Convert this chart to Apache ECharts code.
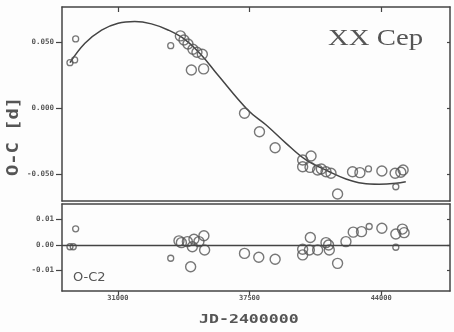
<!DOCTYPE html>
<html>
<head>
<meta charset="utf-8">
<script src="https://cdn.jsdelivr.net/npm/echarts@6/dist/echarts.min.js"></script>
<style>
  html, body { margin: 0; padding: 0; background: #ffffff; }
  #chart { width: 454px; height: 332px; }
</style>
</head>
<body>
<div id="chart"></div>
<script>
// XX Cep: O-C diagram with fitted curve (top) and residuals O-C2 (bottom)

// x tick values (JD-2400000)
const jdTicks = [31000, 37500, 44000];
// O-C tick values [d]
const ocTicks = [-0.05, 0, 0.05];
const resTicks = [-0.01, 0, 0.01];

// O-C observations, large circles: [JD-2400000, O-C]
const ocLarge = [
  [34087, 0.0546], [34265, 0.0515], [34462, 0.0485], [34708, 0.0445],
  [34905, 0.0422], [35171, 0.0407], [34629, 0.0288], [35235, 0.0296],
  [37253, -0.0040], [37992, -0.0180], [38765, -0.0301],
  [40124, -0.0394], [40538, -0.0364], [40124, -0.0445], [40488, -0.0450],
  [40863, -0.0470], [41045, -0.0462], [41276, -0.0483], [41523, -0.0495],
  [41848, -0.0652], [42586, -0.0483], [42951, -0.0490], [44034, -0.0478],
  [44689, -0.0495], [44970, -0.0487], [45083, -0.0470]
];
// O-C observations, small circles
const ocSmall = [
  [28917, 0.0523], [28636, 0.0343], [28868, 0.0364], [33610, 0.0472],
  [43374, -0.0462], [44723, -0.0597]
];
// fitted O-C curve, sampled along its trace
const ocFit = [
  [28636, 0.0343], [29375, 0.0490], [30197, 0.0590], [31015, 0.0642],
  [31837, 0.0655], [32659, 0.0637], [33477, 0.0591], [34299, 0.0520],
  [35121, 0.0402], [35939, 0.0250], [37416, -0.0015], [38322, -0.0129],
  [39307, -0.0268], [40292, -0.0394], [41439, -0.0483], [42261, -0.0538],
  [43079, -0.0571], [43901, -0.0578], [44723, -0.0571], [45215, -0.0559]
];

// residuals O-C2, large circles
const resLarge = [
  [34018, 0.0016], [34137, 0.0009], [34432, 0.0013], [34678, -0.0007],
  [34757, 0.0022], [35003, 0.0013], [35249, 0.0036], [35284, -0.0020],
  [34594, -0.0085], [37253, -0.0033], [37957, -0.0048], [38765, -0.0056],
  [40124, -0.0017], [40124, -0.0039], [40503, 0.0029], [40454, -0.0020],
  [40863, -0.0020], [41276, 0.0009], [41404, 0.0000], [41439, -0.0020],
  [41848, -0.0072], [42261, 0.0013], [42621, 0.0050], [43030, 0.0052],
  [44034, 0.0065], [44723, 0.0043], [45049, 0.0062], [45132, 0.0048]
];
// residuals O-C2, small circles
const resSmall = [
  [28917, 0.0063], [28636, -0.0007], [28798, -0.0007], [33610, -0.0052],
  [43409, 0.0072], [44723, -0.0009]
];

const ink = '#444';
const mono = '"DejaVu Sans Mono", monospace';

const chart = echarts.init(document.getElementById('chart'), null, { renderer: 'canvas' });

const jdMin = 28243, jdMax = 47398;

function xAx(grid, pos, opts) {
  return Object.assign({
    type: 'value', gridIndex: grid, position: pos, min: jdMin, max: jdMax,
    axisLine: { show: true, onZero: false, lineStyle: { color: ink, width: 1.5 } },
    splitLine: { show: false },
    axisTick: { show: false },
    axisLabel: { show: false }
  }, opts || {});
}
function yAx(grid, pos, min, max, ticks, opts) {
  return Object.assign({
    type: 'value', gridIndex: grid, position: pos, min: min, max: max,
    axisLine: { show: true, onZero: false, lineStyle: { color: ink, width: 1.5 } },
    splitLine: { show: false },
    axisTick: { show: true, inside: pos === 'right', length: pos === 'right' ? 3 : 6,
      customValues: ticks, lineStyle: { color: ink, width: 1.2 } },
    axisLabel: { show: false }
  }, opts || {});
}

const circleLarge = { color: 'rgba(0,0,0,0)', borderColor: '#555', borderWidth: 1.4 };
const circleSmall = { color: 'rgba(0,0,0,0)', borderColor: '#555', borderWidth: 1.3 };

chart.setOption({
  backgroundColor: '#fdfdfd',
  animation: false,
  grid: [
    { left: 62, top: 7, width: 388, height: 194, show: false },
    { left: 62, top: 204, width: 388, height: 87, show: false }
  ],
  xAxis: [
    xAx(0, 'bottom'),
    xAx(0, 'top', { axisTick: { show: true, inside: true, length: 5, customValues: jdTicks,
      lineStyle: { color: ink, width: 1.2 } } }),
    xAx(1, 'bottom', {
      axisTick: { show: true, inside: false, length: 4, customValues: jdTicks,
        lineStyle: { color: ink, width: 1.2 } },
      axisLabel: { show: true, customValues: jdTicks, margin: 4, color: '#555',
        fontFamily: mono, fontWeight: 'bold', fontSize: 7,
        formatter: v => String(v) }
    }),
    xAx(1, 'top')
  ],
  yAxis: [
    yAx(0, 'left', -0.0705, 0.0765, ocTicks, {
      axisLabel: { show: true, customValues: ocTicks, margin: 8, color: '#555',
        fontFamily: mono, fontWeight: 'bold', fontSize: 7.5,
        formatter: v => v.toFixed(3) }
    }),
    yAx(0, 'right', -0.0705, 0.0765, ocTicks),
    yAx(1, 'left', -0.018, 0.016, resTicks, {
      axisLabel: { show: true, customValues: resTicks, margin: 8, color: '#555',
        fontFamily: mono, fontWeight: 'bold', fontSize: 7.5,
        formatter: v => v.toFixed(2) }
    }),
    yAx(1, 'right', -0.018, 0.016, resTicks)
  ],
  series: [
    {
      type: 'line', name: 'fit', xAxisIndex: 0, yAxisIndex: 0, data: ocFit,
      smooth: 0.4, showSymbol: false, lineStyle: { color: ink, width: 1.5 }, z: 3
    },
    {
      type: 'scatter', xAxisIndex: 0, yAxisIndex: 0, data: ocLarge,
      symbol: 'circle', symbolSize: 10, itemStyle: circleLarge, z: 4
    },
    {
      type: 'scatter', xAxisIndex: 0, yAxisIndex: 0, data: ocSmall,
      symbol: 'circle', symbolSize: 6, itemStyle: circleSmall, z: 4
    },
    {
      type: 'scatter', xAxisIndex: 2, yAxisIndex: 2, data: resLarge,
      symbol: 'circle', symbolSize: 10, itemStyle: circleLarge, z: 4,
      markLine: {
        silent: true, symbol: 'none', label: { show: false },
        lineStyle: { color: ink, width: 1.3, type: 'solid' },
        data: [{ yAxis: 0 }]
      }
    },
    {
      type: 'scatter', xAxisIndex: 2, yAxisIndex: 2, data: resSmall,
      symbol: 'circle', symbolSize: 6, itemStyle: circleSmall, z: 4
    }
  ],
  graphic: [
    {
      type: 'text', left: 328, top: 27,
      style: { text: 'XX Cep', fill: '#555', font: '23px "Liberation Serif", serif' },
      scaleX: 1.25
    },
    {
      type: 'text', left: 73, top: 271,
      style: { text: 'O-C2', fill: '#555', font: '13px "DejaVu Sans", sans-serif' }
    },
    {
      type: 'text', x: 199, y: 314,
      style: { text: 'JD-2400000', fill: '#555', font: 'bold 12px ' + mono },
      scaleX: 1.38
    },
    {
      type: 'text', x: 7, y: 176, rotation: Math.PI / 2,
      style: { text: 'O-C [d]', fill: '#555', font: 'bold 15px ' + mono },
      scaleX: 1.25
    }
  ]
});
</script>
</body>
</html>
